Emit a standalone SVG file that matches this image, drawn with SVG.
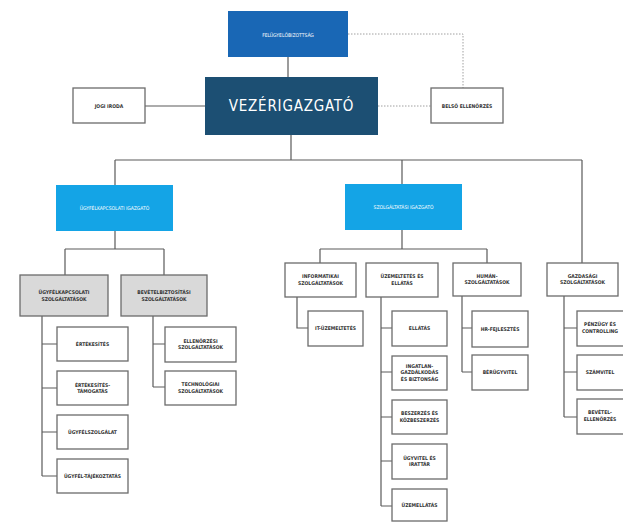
<svg xmlns="http://www.w3.org/2000/svg" width="623" height="522" viewBox="0 0 623 522">
<style>
.bg{fill:#ffffff}
.w{fill:#ffffff;stroke:#6b6b6b;stroke-width:1.3}
.g{fill:#d9d9d9;stroke:#6b6b6b;stroke-width:1.3}
.lb{fill:#14a4e6}
.t{font-family:"Liberation Sans Narrow","DejaVu Sans Condensed","Liberation Sans",sans-serif;font-size:5px;font-weight:bold;fill:#333333;text-anchor:middle}
.tw{font-family:"Liberation Sans Narrow","DejaVu Sans Condensed","Liberation Sans",sans-serif;font-size:5px;fill:#ffffff;text-anchor:middle}
.ln{fill:none;stroke:#5a5a5a;stroke-width:1.2}
.dt{fill:none;stroke:#a0a0a0;stroke-width:1;stroke-dasharray:1.5 1.5}
</style>
<rect class="bg" x="0" y="0" width="623" height="522"/>
<g id="connectors">
<path class="ln" d="M288 57V77"/>
<path class="ln" d="M145 106H205"/>
<path class="dt" d="M378 106H431"/>
<path class="dt" d="M348 34H463V88"/>
<path class="ln" d="M291 135V160M115 160H582M115 160V185M402 160V185M582 160V263"/>
<path class="ln" d="M115 231V249M65 249H164M65 249V275M164 249V275"/>
<path class="ln" d="M42 316V476M42 344H57M42 388H57M42 432H57M42 476H57"/>
<path class="ln" d="M153 316V387M153 344H165M153 387H165"/>
<path class="ln" d="M402 230V249M320 249H487M320 249V263M487 249V263"/>
<path class="ln" d="M297 297V328H308"/>
<path class="ln" d="M381 297V506M381 328H392M381 372H392M381 417H392M381 461H392M381 506H392"/>
<path class="ln" d="M462 296V372M462 328H472M462 372H472"/>
<path class="ln" d="M564 296V417M564 328H577M564 372H577M564 417H577"/>
</g>
<g id="felugyelobizottsag">
<rect x="228" y="11" width="120" height="46" fill="#1967b5"/>
<text class="tw" x="288" y="36.5" font-size="6.4px">FELÜGYELŐBIZOTTSÁG</text>
</g>
<g id="vezerigazgato">
<rect x="205" y="77" width="173" height="58" fill="#1c4f73"/>
<text x="291.5" y="111" font-family="Liberation Sans Narrow,DejaVu Sans Condensed,Liberation Sans,sans-serif" font-size="15px" letter-spacing="0.8" fill="#ffffff" text-anchor="middle">VEZÉRIGAZGATÓ</text>
</g>
<g id="jogi-iroda">
<rect class="w" x="73" y="88" width="72" height="35"/>
<text class="t" x="109" y="107.5">JOGI IRODA</text>
</g>
<g id="belso-ellenorzes">
<rect class="w" x="431" y="88" width="72" height="35"/>
<text class="t" x="467" y="107.5">BELSŐ ELLENŐRZÉS</text>
</g>
<g id="ugyfelkapcsolati-igazgato">
<rect class="lb" x="56" y="185" width="117" height="46"/>
<text class="tw" x="114.5" y="209.5">ÜGYFÉLKAPCSOLATI IGAZGATÓ</text>
</g>
<g id="szolgaltatasi-igazgato">
<rect class="lb" x="345" y="184" width="117" height="46"/>
<text class="tw" x="403.5" y="208.5">SZOLGÁLTATÁSI IGAZGATÓ</text>
</g>
<g id="ugyfelkapcsolati-szolg">
<rect class="g" x="20" y="275" width="88" height="41"/>
<text class="t" x="64" y="294">ÜGYFÉLKAPCSOLATI</text>
<text class="t" x="64" y="300.5">SZOLGÁLTATÁSOK</text>
</g>
<g id="bevetelbiztositasi-szolg">
<rect class="g" x="121" y="275" width="86" height="41"/>
<text class="t" x="164" y="294">BEVÉTELBIZTOSÍTÁSI</text>
<text class="t" x="164" y="300.5">SZOLGÁLTATÁSOK</text>
</g>
<g id="ertekesites">
<rect class="w" x="57" y="327" width="71" height="34"/>
<text class="t" x="92.5" y="345.5">ÉRTÉKESÍTÉS</text>
</g>
<g id="ertekesites-tamogatas">
<rect class="w" x="57" y="371" width="71" height="34"/>
<text class="t" x="92.5" y="386.5">ÉRTÉKESÍTÉS-</text>
<text class="t" x="92.5" y="393">TÁMOGATÁS</text>
</g>
<g id="ugyfelszolgalat">
<rect class="w" x="57" y="415" width="71" height="34"/>
<text class="t" x="92.5" y="433.5">ÜGYFÉLSZOLGÁLAT</text>
</g>
<g id="ugyfel-tajekoztatas">
<rect class="w" x="57" y="459" width="71" height="34"/>
<text class="t" x="92.5" y="477.5">ÜGYFÉL-TÁJÉKOZTATÁS</text>
</g>
<g id="ellenorzesi-szolg">
<rect class="w" x="165" y="327" width="71" height="35"/>
<text class="t" x="200.5" y="342.5">ELLENŐRZÉSI</text>
<text class="t" x="200.5" y="349">SZOLGÁLTATÁSOK</text>
</g>
<g id="technologiai-szolg">
<rect class="w" x="165" y="371" width="71" height="34"/>
<text class="t" x="200.5" y="386">TECHNOLÓGIAI</text>
<text class="t" x="200.5" y="392.5">SZOLGÁLTATÁSOK</text>
</g>
<g id="informatikai-szolg">
<rect class="w" x="285" y="263" width="71" height="34"/>
<text class="t" x="320.5" y="278">INFORMATIKAI</text>
<text class="t" x="320.5" y="284.5">SZOLGÁLTATÁSOK</text>
</g>
<g id="uzemeltetes-es-ellatas">
<rect class="w" x="366" y="263" width="72" height="34"/>
<text class="t" x="402" y="278">ÜZEMELTETÉS ÉS</text>
<text class="t" x="402" y="284.5">ELLÁTÁS</text>
</g>
<g id="human-szolg">
<rect class="w" x="453" y="263" width="68" height="33"/>
<text class="t" x="487" y="277.5">HUMÁN-</text>
<text class="t" x="487" y="284">SZOLGÁLTATÁSOK</text>
</g>
<g id="gazdasagi-szolg">
<rect class="w" x="547" y="263" width="71" height="33"/>
<text class="t" x="582.5" y="277.5">GAZDASÁGI</text>
<text class="t" x="582.5" y="284">SZOLGÁLTATÁSOK</text>
</g>
<g id="it-uzemeltetes">
<rect class="w" x="308" y="311" width="55" height="35"/>
<text class="t" x="335.5" y="330">IT-ÜZEMELTETÉS</text>
</g>
<g id="ellatas">
<rect class="w" x="392" y="311" width="55" height="35"/>
<text class="t" x="419.5" y="330">ELLÁTÁS</text>
</g>
<g id="ingatlangazdalkodas">
<rect class="w" x="392" y="356" width="55" height="34"/>
<text class="t" x="419.5" y="367.5">INGATLAN-</text>
<text class="t" x="419.5" y="374">GAZDÁLKODÁS</text>
<text class="t" x="419.5" y="380.5">ÉS BIZTONSÁG</text>
</g>
<g id="beszerzes">
<rect class="w" x="392" y="400" width="55" height="34"/>
<text class="t" x="419.5" y="415">BESZERZÉS ÉS</text>
<text class="t" x="419.5" y="421.5">KÖZBESZERZÉS</text>
</g>
<g id="ugyvitel-irattar">
<rect class="w" x="392" y="444" width="55" height="35"/>
<text class="t" x="419.5" y="459.5">ÜGYVITEL ÉS</text>
<text class="t" x="419.5" y="466">IRATTÁR</text>
</g>
<g id="uzemellatas">
<rect class="w" x="392" y="489" width="55" height="32"/>
<text class="t" x="419.5" y="507">ÜZEMELLÁTÁS</text>
</g>
<g id="hr-fejlesztes">
<rect class="w" x="472" y="311" width="56" height="36"/>
<text class="t" x="500" y="330.5">HR-FEJLESZTÉS</text>
</g>
<g id="berugyvitel">
<rect class="w" x="472" y="355" width="56" height="35"/>
<text class="t" x="500" y="374">BÉRÜGYVITEL</text>
</g>
<g id="penzugy-controlling">
<rect class="w" x="577" y="311" width="55" height="35"/>
<text class="t" x="600" y="326">PÉNZÜGY ÉS</text>
<text class="t" x="600" y="332.5">CONTROLLING</text>
</g>
<g id="szamvitel">
<rect class="w" x="577" y="355" width="55" height="35"/>
<text class="t" x="600" y="374">SZÁMVITEL</text>
</g>
<g id="bevetel-ellenorzes">
<rect class="w" x="577" y="399" width="55" height="35"/>
<text class="t" x="600" y="414">BEVÉTEL-</text>
<text class="t" x="600" y="420.5">ELLENŐRZÉS</text>
</g>
</svg>
